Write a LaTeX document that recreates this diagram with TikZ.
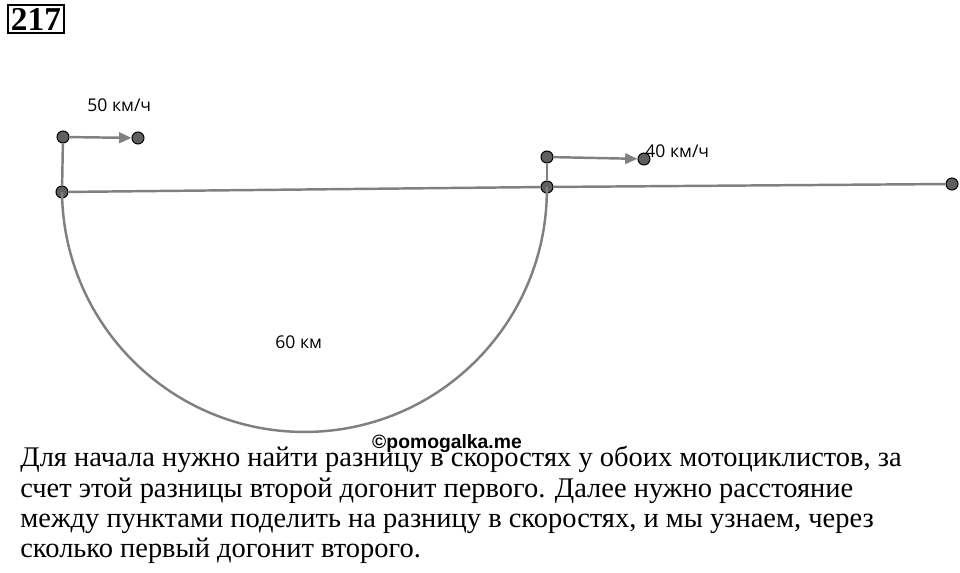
\documentclass[tikz,border=0pt]{standalone}
\usepackage{fontspec}
\setmainfont{Liberation Serif}
\newfontfamily\lblfont{Open Sans}
\newfontfamily\wmfont{Liberation Sans}
\usetikzlibrary{arrows.meta}
\definecolor{linegray}{RGB}{128,128,128}
\definecolor{dotgray}{RGB}{95,95,95}
\tikzset{
  dot/.style={circle,draw=black,fill=dotgray,line width=0.6pt,minimum size=0.24cm,inner sep=0pt},
  seg/.style={draw=linegray,line width=1.4pt},
  vel/.style={seg,-{Triangle[length=7pt,width=6pt]}},
  lbl/.style={font=\lblfont\fontsize{10}{12}\selectfont,inner sep=0pt,anchor=base west},
  txt/.style={font=\fontsize{16.2}{19}\selectfont,inner sep=0pt,anchor=base west}
}
\begin{document}
\begin{tikzpicture}[x=0.02cm,y=-0.02cm]
  \useasboundingbox[fill=white] (0,0) rectangle (960,573);
  % task number
  \node[draw,line width=1.2pt,minimum width=1.12cm,minimum height=0.56cm,inner sep=0pt,
        font=\bfseries\fontsize{19}{20}\selectfont] (num) at (36,19) {217};
  % points
  \node[dot] (a)  at (62,192) {};
  \node[dot] (b)  at (547,187) {};
  \node[dot] (c)  at (952,184) {};
  \node[dot] (a1) at (63,137) {};
  \node[dot] (a2) at (138,138) {};
  \node[dot] (b1) at (547,157) {};
  \node[dot] (b2) at (644,159) {};
  % road and circle
  \draw[seg] (a.center) arc[start angle=180.59,end angle=360.59,radius=4.85cm];
  \draw[seg] (a) -- (b) -- (c);
  \draw[seg] (a) -- (a1);
  \draw[seg] (b) -- (b1);
  \draw[vel] (a1) -- (a2);
  \draw[vel] (b1) -- (b2);
  % labels
  \node[lbl] (va) at (87,112) {50 км/ч};
  \node[lbl] (vb) at (645,158) {40 км/ч};
  \node[lbl] (d)  at (275,349) {60 км};
  \node[font=\wmfont\bfseries\fontsize{11}{13}\selectfont,inner sep=0pt] (wm) at (447,444) {©pomogalka.me};
  % explanation
  \node[txt] (t1) at (20,467) {Для начала нужно найти разницу в скоростях у обоих мотоциклистов, за};
  \node[txt] (t2) at (20,498) {счет этой разницы второй догонит первого. Далее нужно расстояние};
  \node[txt] (t3) at (20,528) {между пунктами поделить на разницу в скоростях, и мы узнаем, через};
  \node[txt] (t4) at (20,558) {сколько первый догонит второго.};
\end{tikzpicture}
\end{document}
